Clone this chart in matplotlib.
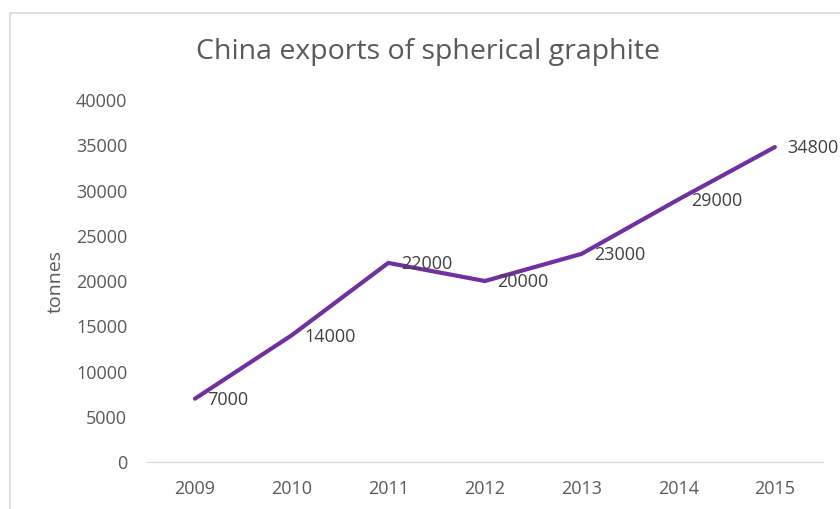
import matplotlib.pyplot as plt
from matplotlib.patches import Rectangle

years = [2009, 2010, 2011, 2012, 2013, 2014, 2015]
tonnes = [7000, 14000, 22000, 20000, 23000, 29000, 34800]
yticks = [0, 5000, 10000, 15000, 20000, 25000, 30000, 35000, 40000]

plt.rcParams['font.family'] = ['Open Sans', 'DejaVu Sans']
grey = '#595959'

fig = plt.figure(figsize=(8.4, 5.09), dpi=100)
ax = fig.add_axes([0.1746, 0.0923, 0.8054, 0.7112])

# chart border (cropped on right and bottom)
fig.patches.append(Rectangle((10 / 840, -0.1), 2, (509 - 13) / 509 + 0.1,
                             transform=fig.transFigure, fill=False,
                             edgecolor='#d9d9d9', linewidth=1.2))

x = list(range(len(years)))
ax.plot(x, tonnes, color='#7030A0', linewidth=3, solid_capstyle='round')

for xi, v in zip(x, tonnes):
    ax.annotate(str(v), (xi, v), xytext=(9, -1), textcoords='offset points',
                ha='left', va='center', fontsize=13, color='#404040')

ax.set_xlim(-0.5, len(years) - 0.5)
ax.set_ylim(0, 40000)
ax.set_xticks(x)
ax.set_xticklabels([str(y) for y in years])
ax.set_yticks(yticks)
ax.tick_params(length=0, labelsize=13, colors=grey)
ax.tick_params(axis='y', pad=14)
ax.tick_params(axis='x', pad=13)

for s in ['top', 'right', 'left']:
    ax.spines[s].set_visible(False)
ax.spines['bottom'].set_color('#d9d9d9')

ax.set_ylabel('tonnes', fontsize=14, color=grey, labelpad=8)
fig.text(428 / 840, 1 - 52 / 509, 'China exports of spherical graphite',
         ha='center', va='center', fontsize=20.5, color=grey)

fig.savefig('out.png', dpi=100)
